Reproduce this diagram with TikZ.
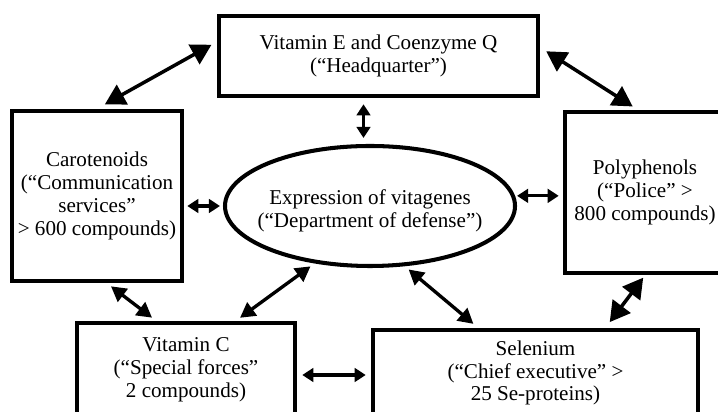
\documentclass[tikz,border=0pt]{standalone}
\usepackage{fontspec}
\setmainfont{Liberation Serif}
\usetikzlibrary{arrows.meta,shapes.geometric}

\begin{document}
\begin{tikzpicture}[
	font=\fontsize{12}{13}\selectfont,
	box/.style={draw, line width=2.6pt, align=center, inner sep=0pt},
	bigarr/.style={{Triangle[length=0.4cm,width=0.44cm]}-{Triangle[length=0.4cm,width=0.44cm]}, line width=2pt},
	midarr/.style={{Triangle[length=0.3cm,width=0.32cm]}-{Triangle[length=0.3cm,width=0.32cm]}, line width=1.9pt},
	smallarr/.style={{Triangle[length=0.22cm,width=0.27cm]}-{Triangle[length=0.22cm,width=0.27cm]}, line width=1.8pt}]
\path[use as bounding box, clip] (0,0) rectangle (14.36,8.24);

\node[box, minimum width=6.38cm, minimum height=1.6cm] (vitE) at (7.57,7.12) {Vitamin E and Coenzyme Q\\(“Headquarter”)};
\node[box, minimum width=3.4cm, minimum height=3.4cm] (carot) at (1.94,4.32) {Carotenoids\\(“Communication\\services”\\> 600 compounds)};
\node[box, minimum width=3.2cm, minimum height=3.22cm] (poly) at (12.9,4.39) {Polyphenols\\(“Police” >\\800 compounds)};
\node[box, minimum width=4.36cm, minimum height=1.88cm] (vitC) at (3.72,0.84) {Vitamin C\\(“Special forces”\\2 compounds)};
\node[box, minimum width=6.5cm, minimum height=1.72cm] (selen) at (10.71,0.78) {Selenium\\(“Chief executive” >\\25 Se-proteins)};
\node[ellipse, draw, line width=2.3pt, minimum width=5.8cm, minimum height=2.4cm, inner sep=0pt,
	label={[align=center, yshift=-1mm]center:Expression of vitagenes\\(“Department of defense”)}] (ell) at (7.40,4.12) {};

% links to the headquarter
\draw[bigarr, shorten <=0.12cm, shorten >=0.18cm] (vitE.175) -- (carot.north);
\draw[bigarr, shorten <=0.14cm, shorten >=0.12cm] (vitE.3) -- (poly.95);
\draw[smallarr, shorten <=0.12cm, shorten >=0.12cm] ([xshift=-3mm]vitE.south) -- ([xshift=-3mm]vitE.south |- ell.north);

% links around the vitagenes
\draw[smallarr, shorten <=0.06cm, shorten >=0.06cm] (carot.east |- ell.west) -- (ell.west);
\draw[smallarr, shorten <=0.04cm, shorten >=0.08cm] (ell.4) -- (ell.4 -| poly.west);
\draw[midarr, shorten <=0.1cm, shorten >=0.1cm] (ell.226) -- ([xshift=1cm]vitC.north);
\draw[midarr, shorten <=0.1cm, shorten >=0.12cm] (ell.300) -- ([xshift=-1.15cm]selen.north);

% bottom row
\draw[midarr, shorten <=0.1cm, shorten >=0.1cm] ([xshift=2mm]carot.south) -- ([xshift=-6mm]vitC.north);
\draw[smallarr, shorten <=0.1cm, shorten >=0.1cm] ([yshift=-1mm]vitC.east) -- ([yshift=-1mm]vitC.east -| selen.west);
\draw[bigarr, shorten <=0.06cm, shorten >=0.14cm] (poly.south) -- ([xshift=1.4cm]selen.north);
\end{tikzpicture}
\end{document}
